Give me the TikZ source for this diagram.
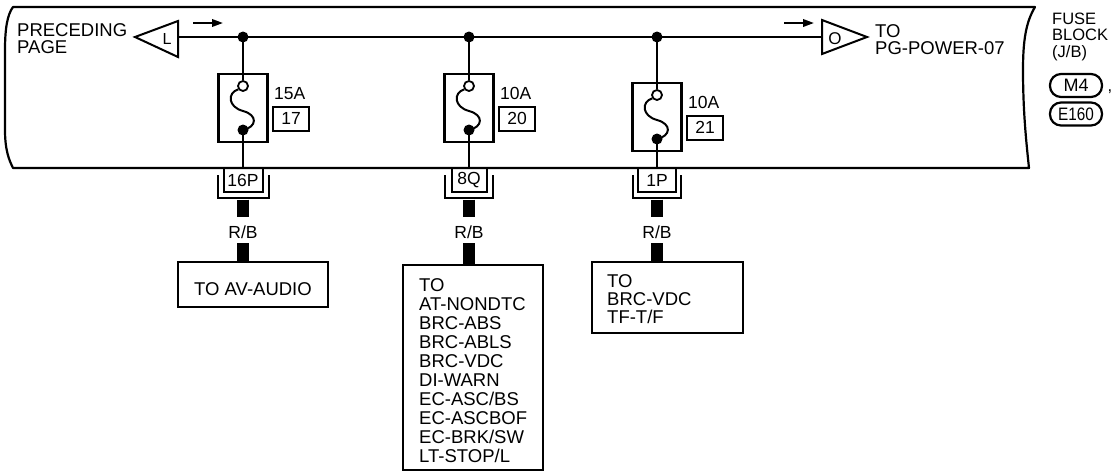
\documentclass[tikz,border=0pt]{standalone}
\usepackage{fontspec}
\setmainfont{Liberation Sans}
\usetikzlibrary{arrows.meta}
\newcommand\fsz[1]{\fontsize{#1}{#1}\selectfont}
% #1 name, #2 x of column, #3 top of fuse box, #4 amps, #5 fuse number,
% #6 connector code, #7 inner width of connector, #8 outer width of connector
\newcommand\fusecol[8]{%
  \node[fusebox] (fb#1) at (#2,#3+34) {};
  \node[jdot] (j#1) at (#2,37) {};
  \node[ocirc] (t#1) at (#2,#3+12) {};
  \node[jdot] (b#1) at (#2,#3+56) {};
  \draw[wire] (j#1.center) -- (t#1.north);
  \draw[wire] (t#1.215) .. controls (#2-16,#3+19) and (#2-15,#3+33) .. (#2,#3+37)
     .. controls (#2+15,#3+41) and (#2+14,#3+53) .. (b#1.center);
  \node[lbl, anchor=base west] (a#1) at (#2+31,#3+25) {#4};
  \node[numbox] (n#1) at (#2+48,#3+44.5) {#5};
  \node[connbox, minimum width=#7] (c#1) at (#2,180) {#6};
  \draw[wire] (b#1.center) -- (c#1.north);
  \draw[wire] (#2-#8/2,175) -- (#2-#8/2,198) -- (#2+#8/2,198) -- (#2+#8/2,175);
  \coordinate (h#1) at (#2,199.5);
  \draw[harness] (h#1) -- ++(0,17.5);
  \node[lbl, anchor=base] (r#1) at (#2,238.3) {R/B};
  \coordinate (hb#1) at (#2,243);
}
\begin{document}
\begin{tikzpicture}[x=1pt,y=-1pt,
  frame/.style={line width=2.2pt, line join=round},
  wire/.style={line width=2pt},
  harness/.style={line width=11.5pt},
  jdot/.style={circle, fill=black, inner sep=0pt, minimum size=11pt},
  ocirc/.style={circle, draw=black, fill=white, line width=1.8pt, inner sep=0pt, minimum size=10pt},
  fusebox/.style={draw=black, line width=2.2pt, minimum width=49pt, minimum height=68.5pt, inner sep=0pt},
  numbox/.style={draw=black, line width=2pt, minimum width=36pt, minimum height=24pt, inner sep=0pt, font=\fsz{17.5}},
  connbox/.style={draw=black, line width=2pt, minimum height=24pt, inner sep=0pt, font=\fsz{17.5}},
  destbox/.style={draw=black, line width=2.2pt, inner sep=0pt},
  lbl/.style={inner sep=0pt, font=\fsz{17.5}},
  txt/.style={inner sep=0pt, font=\fsz{18.5}},
  small/.style={inner sep=0pt, font=\fsz{16.5}},
  pill/.style={draw=black, line width=2.2pt, rounded corners=11pt, minimum width=52pt, minimum height=23pt, inner sep=0pt},
  dirarrow/.style={line width=2pt, -{Triangle[length=11pt,width=7.5pt]}}
]
\useasboundingbox (0,0) rectangle (1119,472);

% frame of the fuse block
\draw[frame] (13,7) -- (1035,7) .. controls (1026,22) and (1023,40) .. (1023,70)
  .. controls (1023,110) and (1026,140) .. (1029,168) -- (13,168)
  .. controls (9,160) and (5,150) .. (5,130) -- (5,50)
  .. controls (5,30) and (7,15) .. (13,7) -- cycle;

% left page connector
\coordinate (Ltip) at (135,37);
\coordinate (Lr) at (178,37);
\draw[wire, line join=miter] (Ltip) -- (178,21) -- (178,57) -- cycle;
\node[inner sep=0pt, font=\fsz{16}] (Lt) at (167,38.5) {L};
\node[txt, anchor=base west] (prec1) at (17,36) {PRECEDING};
\node[txt, anchor=base west] (prec2) at (17,53) {PAGE};

% right page connector
\coordinate (Ol) at (822,37);
\draw[wire, line join=miter] (Ol) -- (822,20) -- (867,37) -- (822,54) -- cycle;
\node[inner sep=0pt, font=\fsz{17}] (Ot) at (835,38.5) {O};
\node[txt, anchor=base west] (to1) at (875,37) {TO};
\node[txt, anchor=base west] (to2) at (875,54) {PG-POWER-07};

% bus
\draw[wire] (Lr) -- (Ol);
\coordinate (a1s) at (193,23); \coordinate (a1e) at (223,23);
\coordinate (a2s) at (784,23); \coordinate (a2e) at (814,23);
\draw[dirarrow] (a1s) -- (a1e);
\draw[dirarrow] (a2s) -- (a2e);

% fuse columns
\fusecol{1}{243}{74}{15A}{17}{16P}{39pt}{51}
\fusecol{2}{469}{74}{10A}{20}{8Q}{35pt}{48}
\fusecol{3}{657}{83}{10A}{21}{1P}{38pt}{48}

% destinations
\node[destbox, minimum width=150pt, minimum height=45pt] (d1) at (253,284.5) {};
\node[txt, anchor=base] (d1t) at (253,295) {TO AV-AUDIO};
\draw[harness] (hb1) -- (hb1 |- d1.north);

\node[destbox, minimum width=140pt, minimum height=205pt] (d2) at (473,367.5) {};
\foreach \t [count=\i from 0] in {TO,AT-NONDTC,BRC-ABS,BRC-ABLS,BRC-VDC,DI-WARN,EC-ASC/BS,EC-ASCBOF,EC-BRK/SW,LT-STOP/L}
  \node[txt, anchor=base west] (d2t\i) at (419,291.7+19*\i) {\t};
\draw[harness] (hb2) -- (hb2 |- d2.north);

\node[destbox, minimum width=151pt, minimum height=71pt] (d3) at (667.5,297.5) {};
\foreach \t [count=\i from 0] in {TO,BRC-VDC,TF-T/F}
  \node[txt, anchor=base west] (d3t\i) at (607,287.5+17.9*\i) {\t};
\draw[harness] (hb3) -- (hb3 |- d3.north);

% fuse block label
\node[small, anchor=base west] (fl1) at (1052,24) {FUSE};
\node[small, anchor=base west] (fl2) at (1052,40.7) {BLOCK};
\node[small, anchor=base west] (fl3) at (1052,57.3) {(J/B)};
\node[pill, font=\fsz{18}] (m4) at (1076,85.5) {M4};
\node[small, anchor=base] (cm) at (1110,91) {,};
\node[pill, font=\fsz{18}] (e160) at (1076,114) {\scalebox{0.85}[1]{E160}};
\end{tikzpicture}
\end{document}
